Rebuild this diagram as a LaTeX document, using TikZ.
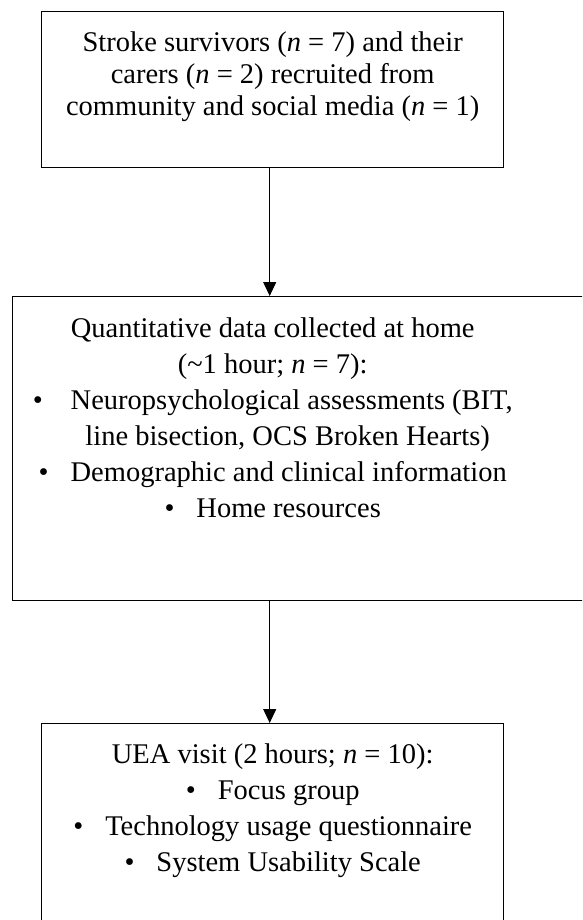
\documentclass[tikz,border=0pt]{standalone}
\usepackage{fontspec}
\setmainfont{Liberation Serif}
\usepackage{tikz}
\usetikzlibrary{arrows.meta, calc}

% viñeta con separación
\newcommand{\bul}[1][22pt]{\textbullet\hspace{#1}}

\begin{document}
\begin{tikzpicture}[
    % Estilos globales
    x=1pt, y=-1pt, % coordenadas en puntos, eje y hacia abajo
    >={Triangle[length=14pt, width=13pt]},
    % Estilo para las cajas de cada fase
    stage/.style = {
        rectangle,
        draw=black,
        line width=1.4pt,
        inner sep=0pt,
        anchor=north west
    },
    % Estilo para el texto compacto (primera caja)
    tight/.style = {font=\fontsize{28.5}{32}\selectfont},
    % Estilo para el texto de listas
    loose/.style = {font=\fontsize{28.5}{36}\selectfont},
    % Estilo de las flechas
    flow/.style = {draw, ->, line width=1pt, black}
]

    % Marco de la figura
    \useasboundingbox (0,0) rectangle (582,920);
    \clip (0,0) rectangle (582,920);

    % --- NODOS ---

    % 1. Reclutamiento
    \node [stage, tight, text width=462pt, align=flush center,
           text height=40pt, text depth=116pt] (recruit) at (41,11)
        {Stroke survivors (\textit{n} = 7) and their\\
         carers (\textit{n} = 2) recruited from\\
         community and social media (\textit{n} = 1)};

    % 2. Datos cuantitativos (la caja sale por la derecha)
    \node [stage, loose, text height=41pt, text depth=263pt] (quant) at (12,296)
        {\parbox[t]{520pt}{\centering
         Quantitative data collected at home\\
         (\textasciitilde1 hour; \textit{n} = 7):\\
         \bul[28pt]Neuropsychological assessments (BIT,\\
         \hspace*{30pt}line bisection, OCS Broken Hearts)\\
         \bul Demographic and clinical information\\
         \bul Home resources}\kern90pt};

    % 3. Visita a la UEA
    \node [stage, loose, text width=462pt, align=flush center,
           text height=40pt, text depth=180pt] (uea) at (41,723)
        {UEA visit (2 hours; \textit{n} = 10):\\
         \bul Focus group\\
         \bul Technology usage questionnaire\\
         \bul System Usability Scale};

    % --- CONEXIONES ---
    \draw [flow] ([xshift=-3pt]recruit.south) -- ([xshift=-3pt]recruit.south |- quant.north);
    \draw [flow] ([xshift=-3pt]recruit.south |- quant.south) -- ([xshift=-3pt]uea.north);

\end{tikzpicture}
\end{document}
